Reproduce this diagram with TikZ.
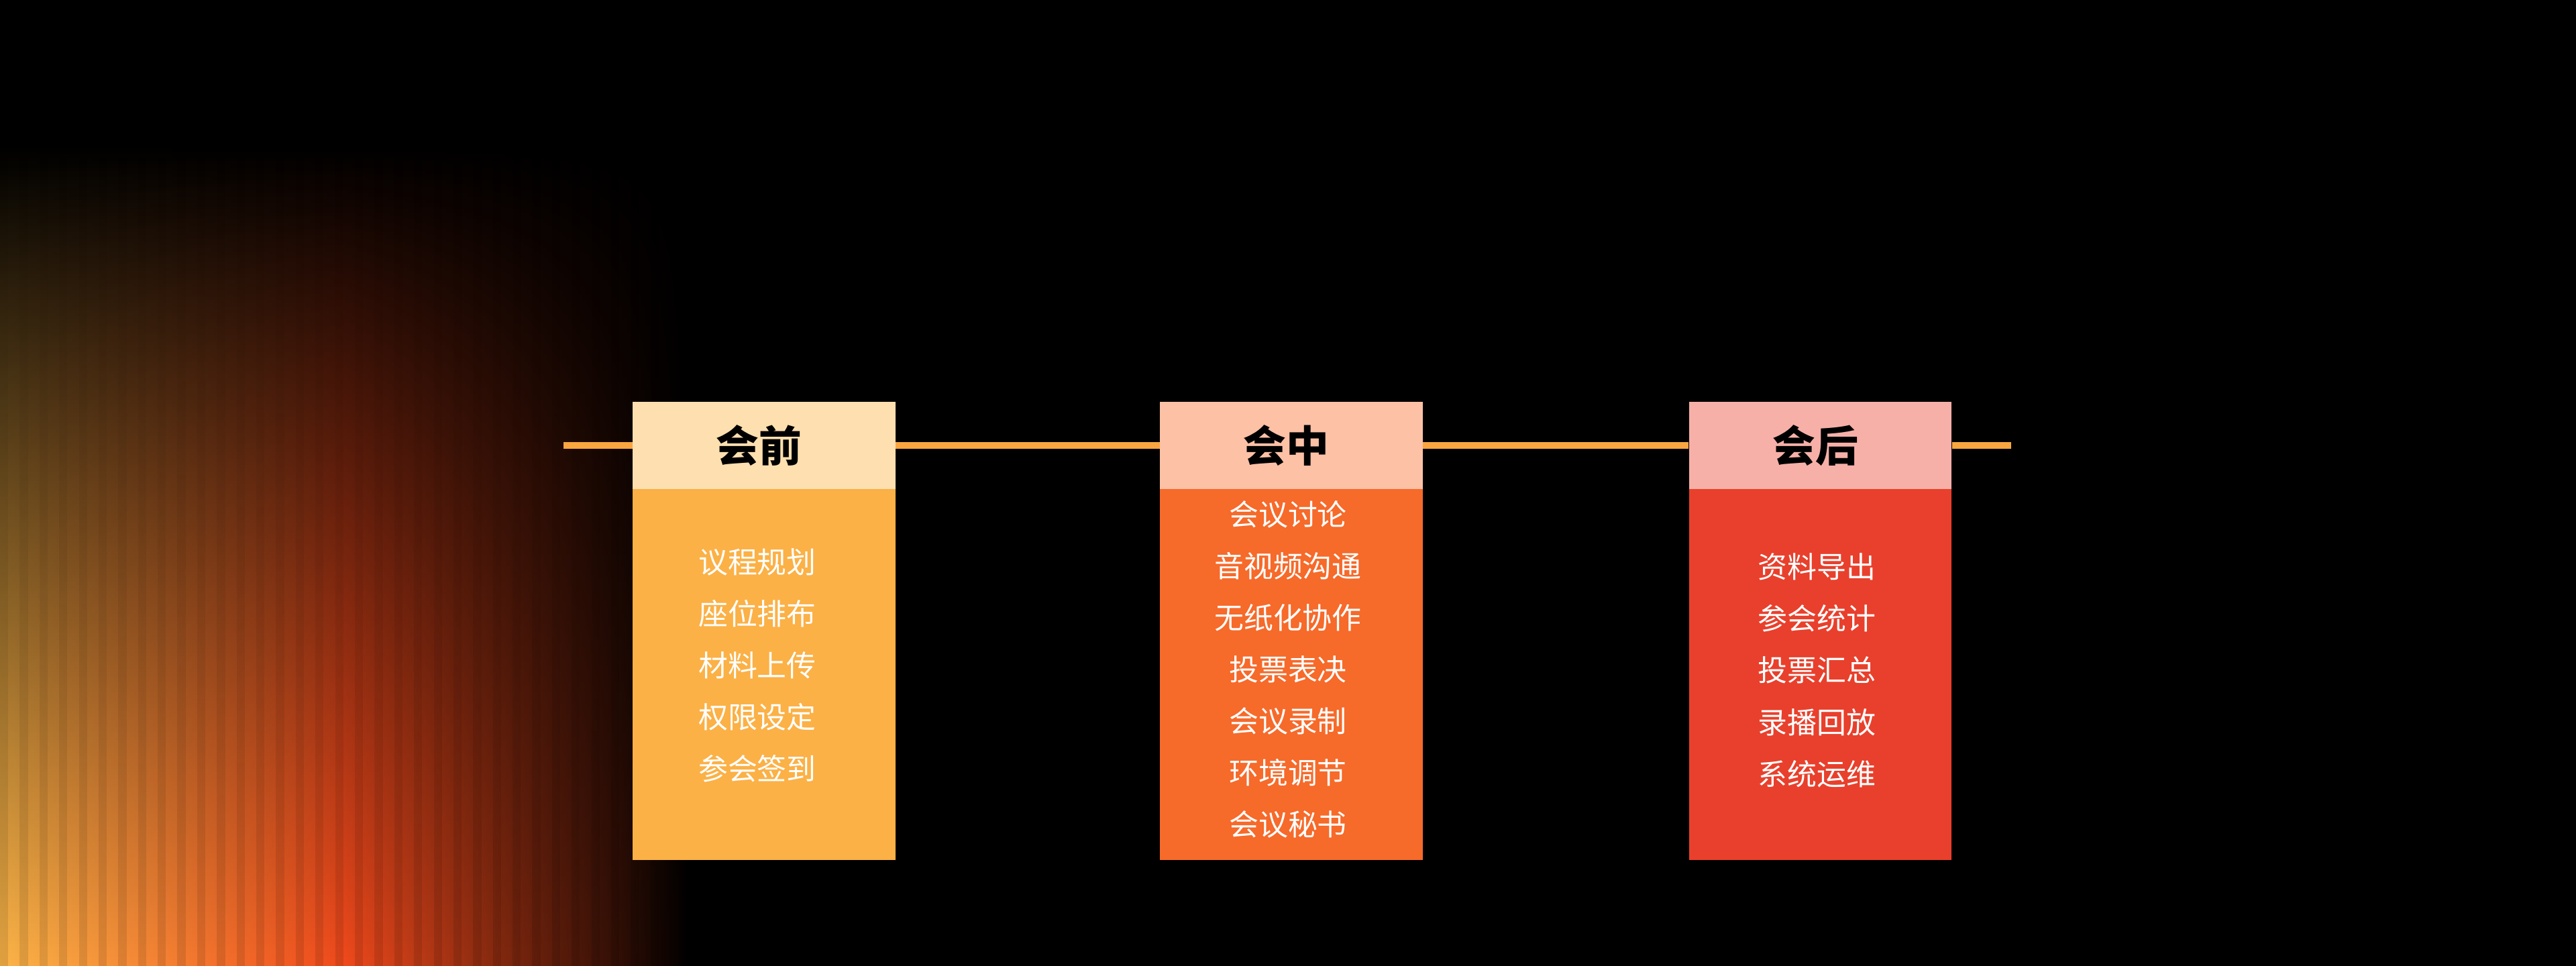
\documentclass[tikz,border=0pt]{standalone}
\usepackage{fontspec}
\newfontfamily\cjk{Noto Sans CJK SC}
\usetikzlibrary{positioning, fadings}
\definecolor{bar}{HTML}{F9A640}
\definecolor{headA}{HTML}{FDDFB0}
\definecolor{headB}{HTML}{FDC1A6}
\definecolor{headC}{HTML}{F6B0A8}
\definecolor{bodyA}{HTML}{FBB146}
\definecolor{bodyB}{HTML}{F66A2A}
\definecolor{bodyC}{HTML}{E8402C}
\definecolor{glowA}{HTML}{FBB548}
\definecolor{glowB}{HTML}{F04A1C}
\tikzset{
  head/.style={minimum width=16cm, minimum height=5.3cm, inner sep=0pt,
    font=\cjk\bfseries\fontsize{74}{86}\selectfont, text=black},
  body/.style={minimum width=16cm, minimum height=22.6cm, inner sep=0pt, below=0pt of #1},
  item/.style={font=\cjk\fontsize{51}{60}\selectfont, text=white}
}
\begin{document}
\begin{tikzpicture}
  \fill[black] (0,0) rectangle (156.8,58.8);
  \useasboundingbox (0,0) rectangle (156.8,58.8);

  % glow on the left
  \begin{scope}
    \fill[left color=glowA, right color=black, middle color=glowB, path fading=north]
      (0,0) rectangle (42,50);
    \foreach \x in {0,1.2,...,40}
      \fill[black, opacity=0.1, path fading=north] (\x,0) rectangle (\x+0.5,50);
  \end{scope}

  % headers
  \node[head, fill=headA] (pre)  at (46.5,31.7) {\hspace*{-0.6cm}会前};
  \node[head, fill=headB] (mid)  at (78.6,31.7) {\hspace*{-0.6cm}会中};
  \node[head, fill=headC] (post) at (110.8,31.7) {\hspace*{-0.6cm}会后};

  % bodies
  \node[body=pre,  fill=bodyA] (preB)  {};
  \node[body=mid,  fill=bodyB] (midB)  {};
  \node[body=post, fill=bodyC] (postB) {};

  % timeline
  \coordinate (start) at (34.3,31.7);
  \coordinate (end)   at (122.4,31.7);
  \draw[bar, line width=0.4cm] (start) -- (pre.west) (pre.east) -- (mid.west)
    (mid.east) -- (post.west) (post.east) -- (end);

  % items
  \foreach \t [count=\i] in {议程规划,座位排布,材料上传,权限设定,参会签到}
    \node[item] at (46.1,58.8-34.2-3.15*\i+3.15) {\t};
  \foreach \t [count=\i] in {会议讨论,音视频沟通,无纸化协作,投票表决,会议录制,环境调节,会议秘书}
    \node[item] at (78.4,58.8-31.3-3.15*\i+3.15) {\t};
  \foreach \t [count=\i] in {资料导出,参会统计,投票汇总,录播回放,系统运维}
    \node[item] at (110.6,58.8-34.5-3.15*\i+3.15) {\t};
\end{tikzpicture}
\end{document}
